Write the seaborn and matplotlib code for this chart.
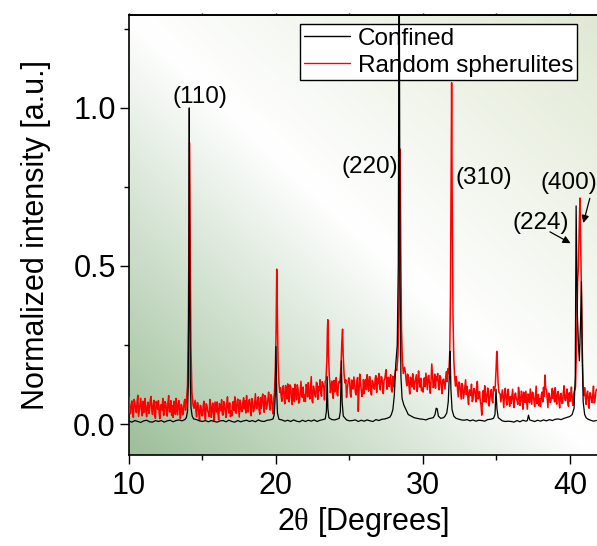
import numpy as np
import pandas as pd
import matplotlib
matplotlib.use("Agg")
import matplotlib.pyplot as plt
import seaborn as sns
from matplotlib.colors import LinearSegmentedColormap
from matplotlib.ticker import MultipleLocator, FormatStrFormatter

# ---------------- data ----------------
# Red ("Random spherulites") noisy background, sampled every 0.1 deg from 10.0 to 41.8
red_bg_start, red_bg_step = 10.0, 0.1
red_bg_y = [
    .085, .033, .073, .021, .067, .036, .091, .044, .081, .026,   # 10
    .036, .081, .023, .069, .046, .087, .030, .075, .018, .064,   # 11
    .074, .017, .061, .081, .032, .066, .025, .090, .039, .027,   # 12
    .021, .066, .081, .029, .074, .017, .057, .035, .078, .069,   # 13
    .200, .200, .200, .200, .200, .075, .023, .063, .011, .057,   # 14
    .027, .072, .014, .060, .037, .078, .021, .066, .009, .055,   # 15
    .070, .013, .057, .077, .028, .062, .021, .086, .035, .023,   # 16
    .026, .071, .086, .034, .079, .022, .062, .040, .083, .074,   # 17
    .090, .038, .078, .026, .072, .041, .096, .049, .086, .031,   # 18
    .050, .095, .037, .083, .060, .101, .044, .089, .032, .090,   # 19
    .100, .100, .100, .115, .072, .121, .064, .108, .127, .070,   # 20
    .119, .062, .106, .126, .077, .111, .070, .135, .084, .072,   # 21
    .071, .116, .131, .079, .150, .067, .107, .085, .128, .119,   # 22
    .140, .088, .128, .076, .130, .130, .130, .099, .136, .081,   # 23
    .102, .147, .089, .135, .130, .130, .130, .130, .084, .130,   # 24
    .142, .085, .129, .149, .100, .134, .040, .158, .107, .095,   # 25
    .096, .141, .156, .104, .149, .092, .132, .110, .153, .144,   # 26
    .160, .108, .148, .096, .142, .172, .124, .119, .156, .101,   # 27
    .118, .163, .150, .150, .150, .150, .150, .150, .165, .121,   # 28
    .152, .095, .139, .159, .110, .144, .103, .168, .117, .105,   # 29
    .101, .146, .161, .109, .154, .097, .190, .115, .158, .149,   # 30
    .160, .108, .148, .096, .142, .111, .166, .175, .150, .150,   # 31
    .150, .150, .150, .135, .086, .128, .079, .121, .095, .140,   # 32
    .119, .062, .106, .126, .077, .111, .070, .135, .084, .072,   # 33
    .028, .106, .121, .069, .114, .057, .097, .075, .118, .100,   # 34
    .100, .100, .100, .070, .108, .052, .113, .060, .110, .056,   # 35
    .065, .110, .052, .098, .075, .116, .059, .104, .047, .093,   # 36
    .104, .047, .091, .111, .062, .096, .055, .120, .069, .057,   # 37
    .056, .101, .116, .155, .109, .052, .092, .070, .113, .104,   # 38
    .115, .063, .103, .051, .097, .066, .121, .074, .111, .056,   # 39
    .072, .117, .059, .105, .100, .100, .100, .100, .100, .100,   # 40
    .115, .062, .104, .050, .097, .068, .120, .073, .110,         # 41
]
# Red background at the in-between positions 10.05, 10.15, ... 41.75
red_mid_start = 10.05
red_mid_y = [
    .041, .062, .030, .078, .049, .070, .024, .066, .045, .072,   # 10
    .069, .040, .058, .033, .077, .044, .063, .029, .071, .047,   # 11
    .035, .060, .044, .027, .071, .043, .068, .038, .074, .058,   # 12
    .072, .031, .048, .065, .038, .062, .029, .070, .044, .060,   # 13
    .200, .200, .200, .200, .060, .041, .068, .034, .059, .026,   # 14
    .058, .033, .064, .040, .024, .061, .047, .031, .070, .038,   # 15
    .036, .065, .042, .030, .071, .039, .063, .048, .067, .041,   # 16
    .068, .043, .037, .070, .052, .076, .039, .071, .048, .035,   # 17
    .047, .074, .055, .081, .039, .068, .052, .077, .044, .083,   # 18
    .082, .056, .090, .047, .079, .060, .093, .052, .080, .150,   # 19
    .100, .100, .100, .090, .118, .083, .122, .079, .101, .124,   # 20
    .085, .113, .071, .099, .124, .066, .105, .088, .117, .093,   # 21
    .125, .086, .097, .112, .074, .120, .090, .132, .078, .105,   # 22
    .098, .134, .116, .135, .130, .130, .130, .113, .097, .138,   # 23
    .131, .095, .126, .130, .130, .130, .130, .140, .112, .146,   # 24
    .098, .139, .111, .126, .092, .147, .104, .130, .087, .141,   # 25
    .133, .109, .127, .150, .099, .138, .114, .145, .100, .128,   # 26
    .117, .150, .124, .138, .160, .110, .148, .135, .108, .151,   # 27
    .140, .175, .150, .150, .150, .150, .150, .180, .140, .158,   # 28
    .120, .148, .117, .140, .131, .156, .122, .137, .145, .113,   # 29
    .142, .118, .133, .150, .121, .140, .155, .126, .113, .139,   # 30
    .122, .153, .117, .139, .127, .150, .134, .150, .150, .150,   # 31
    .150, .150, .150, .112, .133, .102, .128, .081, .117, .093,   # 32
    .085, .108, .090, .071, .112, .094, .118, .079, .103, .060,   # 33
    .082, .070, .098, .084, .103, .079, .109, .067, .105, .100,   # 34
    .100, .100, .095, .090, .078, .099, .081, .096, .072, .087,   # 35
    .088, .070, .094, .079, .062, .097, .073, .086, .101, .068,   # 36
    .076, .095, .068, .087, .101, .073, .089, .064, .094, .080,   # 37
    .093, .070, .088, .112, .079, .098, .068, .094, .081, .070,   # 38
    .080, .097, .074, .093, .065, .100, .079, .091, .068, .099,   # 39
    .088, .073, .095, .110, .100, .100, .100, .100, .100, .100,   # 40
    .083, .096, .074, .099, .080, .090, .067, .098,               # 41
]
red_peak_windows = [(13.85, 14.45), (19.85, 20.3), (23.35, 23.7), (24.3, 24.75),
                    (28.15, 28.75), (31.7, 32.25), (34.85, 35.25), (40.35, 41.0)]
red_peak_x = [13.90, 13.98, 14.04, 14.09, 14.12, 14.16, 14.21, 14.28, 14.36, 14.42,
              19.90, 19.96, 20.01, 20.05, 20.09, 20.14, 20.20, 20.26,
              23.40, 23.46, 23.50, 23.53, 23.57, 23.63, 23.67,
              24.35, 24.42, 24.48, 24.53, 24.57, 24.63, 24.69,
              28.22, 28.30, 28.36, 28.41, 28.45, 28.49, 28.54, 28.60, 28.66,
              31.75, 31.82, 31.87, 31.92, 31.95, 31.99, 32.04, 32.10, 32.17, 32.22,
              34.92, 34.97, 35.02, 35.06, 35.11, 35.17,
              40.38, 40.45, 40.52, 40.58, 40.63, 40.68, 40.72, 40.77, 40.83, 40.90, 40.96]
red_peak_y = [.07, .12, .30, .70, .89, .60, .25, .10, .06, .05,
              .10, .18, .30, .49, .35, .20, .13, .10,
              .14, .20, .30, .33, .22, .15, .13,
              .13, .18, .26, .30, .22, .16, .13,
              .17, .22, .35, .60, .87, .55, .30, .20, .16,
              .16, .22, .40, .80, 1.08, .70, .35, .20, .14, .12,
              .12, .17, .23, .20, .13, .10,
              .12, .25, .45, .50, .62, .715, .60, .45, .25, .12, .09]

# Black ("Confined") background, sampled every 0.2 deg from 10.0 to 41.8
blk_bg_start, blk_bg_step = 10.0, 0.2
blk_bg_y = [
    .009, .006, .011, .008, .005, .010, .012, .007, .006, .011,   # 10-11.8
    .008, .011, .006, .010, .012, .007, .011, .013, .010, .013,   # 12-13.8
    .015, .015, .015, .014, .010, .008, .011, .007, .011, .008,   # 14-15.8
    .006, .010, .011, .007, .012, .008, .006, .011, .007, .010,   # 16-17.8
    .012, .008, .011, .007, .013, .009, .008, .012, .013, .015,   # 18-19.8
    .015, .015, .013, .009, .012, .008, .013, .009, .007, .012,   # 20-21.8
    .008, .012, .009, .013, .008, .012, .014, .015, .015, .014,   # 22-23.8
    .013, .016, .015, .015, .013, .010, .011, .013, .008, .012,   # 24-25.8
    .009, .013, .010, .008, .014, .011, .015, .016, .019, .020,   # 26-27.8
    .020, .020, .020, .020, .020, .020, .020, .020, .018, .016,   # 28-29.8
    .015, .013, .017, .019, .020, .020, .020, .020, .020, .020,   # 30-31.8
    .020, .020, .016, .013, .012, .014, .010, .013, .009, .012,   # 32-33.8
    .011, .009, .014, .015, .015, .015, .015, .010, .008, .009,   # 34-35.8
    .008, .006, .011, .007, .012, .009, .010, .011, .008, .012,   # 36-37.8
    .009, .013, .010, .014, .011, .015, .016, .014, .018, .021,   # 38-39.8
    .020, .020, .020, .020, .020, .020, .016, .012, .009, .011,   # 40-41.8
]
blk_peak_windows = [(13.7, 14.5), (19.7, 20.3), (23.3, 23.7), (24.2, 24.7), (27.7, 29.6),
                    (30.6, 31.3), (31.4, 32.4), (34.7, 35.3), (37.0, 37.4), (39.9, 41.2)]
blk_peak_x = [13.80, 13.90, 13.98, 14.03, 14.07, 14.10, 14.13, 14.17, 14.22, 14.30, 14.40,
              19.80, 19.88, 19.95, 20.00, 20.05, 20.10, 20.20,
              23.35, 23.43, 23.48, 23.53, 23.60,
              24.30, 24.38, 24.45, 24.50, 24.58,
              27.75, 27.85, 27.95, 28.05, 28.15, 28.25, 28.32, 28.38, 28.44, 28.50,
              28.58, 28.70, 28.85, 29.00, 29.20, 29.40,
              30.70, 30.82, 30.90, 30.97, 31.05, 31.20,
              31.50, 31.62, 31.72, 31.80, 31.85, 31.90, 31.98, 32.10, 32.25,
              34.80, 34.90, 34.97, 35.03, 35.12,
              37.10, 37.18, 37.26,
              40.00, 40.15, 40.28, 40.36, 40.42, 40.50, 40.58, 40.64, 40.72, 40.78,
              40.84, 40.90, 41.00, 41.10]
blk_peak_y = [.014, .020, .040, .120, .450, 1.00, .500, .140, .050, .025, .016,
              .016, .030, .090, .245, .100, .035, .015,
              .016, .040, .150, .050, .020,
              .018, .040, .200, .070, .025,
              .022, .030, .045, .090, .190, .250, .500, 1.60, .450, .150,
              .080, .060, .045, .030, .025, .020,
              .020, .030, .050, .048, .025, .018,
              .025, .035, .070, .160, .230, .110, .045, .025, .018,
              .018, .030, .110, .050, .020,
              .011, .028, .013,
              .024, .030, .050, .150, .690, .350, .250, .200, .320, .450,
              .200, .070, .030, .020]

series_names = ["Confined", "Random spherulites"]
series_colors = ["black", "red"]

# annotations: label, text position, arrow start / end (None = no arrow)
ann_labels = ["(110)", "(220)", "(310)", "(400)", "(224)"]
ann_text_xy = [(14.83, 1.035), (26.37, 0.814), (34.15, 0.777), (39.95, 0.763), (38.0, 0.635)]
ann_arrow_from = [None, None, None, (41.35, 0.714), (38.64, 0.608)]
ann_arrow_to = [None, None, None, (40.91, 0.636), (40.04, 0.572)]

# background gradient colour stops (bottom-left -> top-right)
grad_stops = [(0.0, "#9dbf99"), (0.5, "#ffffff"), (1.0, "#e0e9d4")]


def build_series(parts, windows, px, py):
    xs, ys = [], []
    for start, step, vals in parts:
        bx = np.round(start + step * np.arange(len(vals)), 3)
        by = np.asarray(vals, dtype=float)
        keep = np.ones(len(bx), bool)
        for lo, hi in windows:
            keep &= ~((bx > lo + 1e-9) & (bx < hi - 1e-9))
        xs.append(bx[keep])
        ys.append(by[keep])
    xs.append(np.asarray(px, float))
    ys.append(np.asarray(py, float))
    df = pd.DataFrame({"x": np.concatenate(xs), "y": np.concatenate(ys)})
    return df.sort_values("x").reset_index(drop=True)


blk = build_series([(blk_bg_start, blk_bg_step, blk_bg_y)], blk_peak_windows,
                   blk_peak_x, blk_peak_y)
red = build_series([(red_bg_start, red_bg_step, red_bg_y),
                    (red_mid_start, red_bg_step, red_mid_y)], red_peak_windows,
                   red_peak_x, red_peak_y)

# ---------------- plotting ----------------
sns.set_theme(style="white")
plt.rcParams["font.family"] = ["Liberation Sans", "DejaVu Sans"]
plt.rcParams["mathtext.fontset"] = "custom"
plt.rcParams["mathtext.rm"] = "Liberation Serif"
for k in ["text.color", "axes.labelcolor", "xtick.color", "ytick.color", "axes.edgecolor"]:
    plt.rcParams[k] = "black"

fig = plt.figure(figsize=(5.97, 5.46), dpi=100)
ax = fig.add_axes([129 / 597, (546 - 455) / 546, (597 - 129) / 597, (455 - 15) / 546])

xlim = (10, 41.84)
ylim = (-0.098, 1.294)

cmap = LinearSegmentedColormap.from_list("bg", grad_stops)
n = 300
u = np.linspace(0, 1, n)
U, V = np.meshgrid(u, u)
T = (U + V) / 2.0
ax.imshow(cmap(T), extent=(xlim[0], xlim[1], ylim[0], ylim[1]), origin="lower",
          aspect="auto", zorder=0, interpolation="bilinear")

sns.lineplot(data=blk, x="x", y="y", color=series_colors[0], lw=0.9,
             label=series_names[0], ax=ax, zorder=6, estimator=None)
sns.lineplot(data=red, x="x", y="y", color=series_colors[1], lw=1.1,
             label=series_names[1], ax=ax, zorder=3, estimator=None)

ax.set_xlim(*xlim)
ax.set_ylim(*ylim)

ax.set_xlabel(r"2$\mathrm{\theta}$ [Degrees]", fontsize=22, labelpad=3)
ax.set_ylabel("Normalized intensity [a.u.]", fontsize=22, labelpad=16)

ax.xaxis.set_major_locator(MultipleLocator(10))
ax.xaxis.set_minor_locator(MultipleLocator(5))
ax.yaxis.set_major_locator(MultipleLocator(0.5))
ax.yaxis.set_minor_locator(MultipleLocator(0.25))
ax.yaxis.set_major_formatter(FormatStrFormatter("%.1f"))
ax.tick_params(axis="both", which="major", direction="out", length=6.5, width=1.0,
               labelsize=22, color="black")
ax.tick_params(axis="both", which="minor", direction="out", length=3.8, width=1.0,
               color="black")
ax.tick_params(axis="x", which="major", pad=5)
ax.tick_params(axis="y", which="major", pad=3)
ax.tick_params(axis="x", which="both", bottom=True, top=False)
ax.tick_params(axis="y", which="both", left=True, right=False)

# tiny ticks along the top edge
sec = ax.secondary_xaxis("top")
sec.xaxis.set_major_locator(MultipleLocator(5))
sec.tick_params(axis="x", which="both", direction="out", length=1.5, width=1.0,
                labeltop=False, color="black")
sec.spines["top"].set_linewidth(1.2)

for s in ["left", "bottom", "top"]:
    ax.spines[s].set_visible(True)
    ax.spines[s].set_color("black")
    ax.spines[s].set_linewidth(1.2)
ax.spines["right"].set_visible(False)

for lab, txy, a0, a1 in zip(ann_labels, ann_text_xy, ann_arrow_from, ann_arrow_to):
    ax.text(txy[0], txy[1], lab, fontsize=17.5, ha="center", va="center", zorder=7,
            color="black")
    if a0 is not None:
        ax.annotate("", xy=a1, xytext=a0,
                    arrowprops=dict(arrowstyle="-|>", color="black", lw=0.9,
                                    mutation_scale=11, shrinkA=0, shrinkB=0),
                    zorder=7)

leg = ax.legend(loc="upper right", bbox_to_anchor=(0.957, 0.9795), borderaxespad=0,
                fontsize=17.5, frameon=True, fancybox=False, handlelength=1.92,
                handletextpad=0.3, borderpad=0.15, labelspacing=0.2)
leg.get_frame().set_edgecolor("black")
leg.get_frame().set_linewidth(1.0)
leg.get_frame().set_facecolor("white")
leg.get_frame().set_alpha(1.0)
leg.set_zorder(5)
for h in leg.get_lines():
    h.set_linewidth(1.0)
for t in leg.get_texts():
    t.set_color("black")

fig.savefig("out.png", dpi=100)
